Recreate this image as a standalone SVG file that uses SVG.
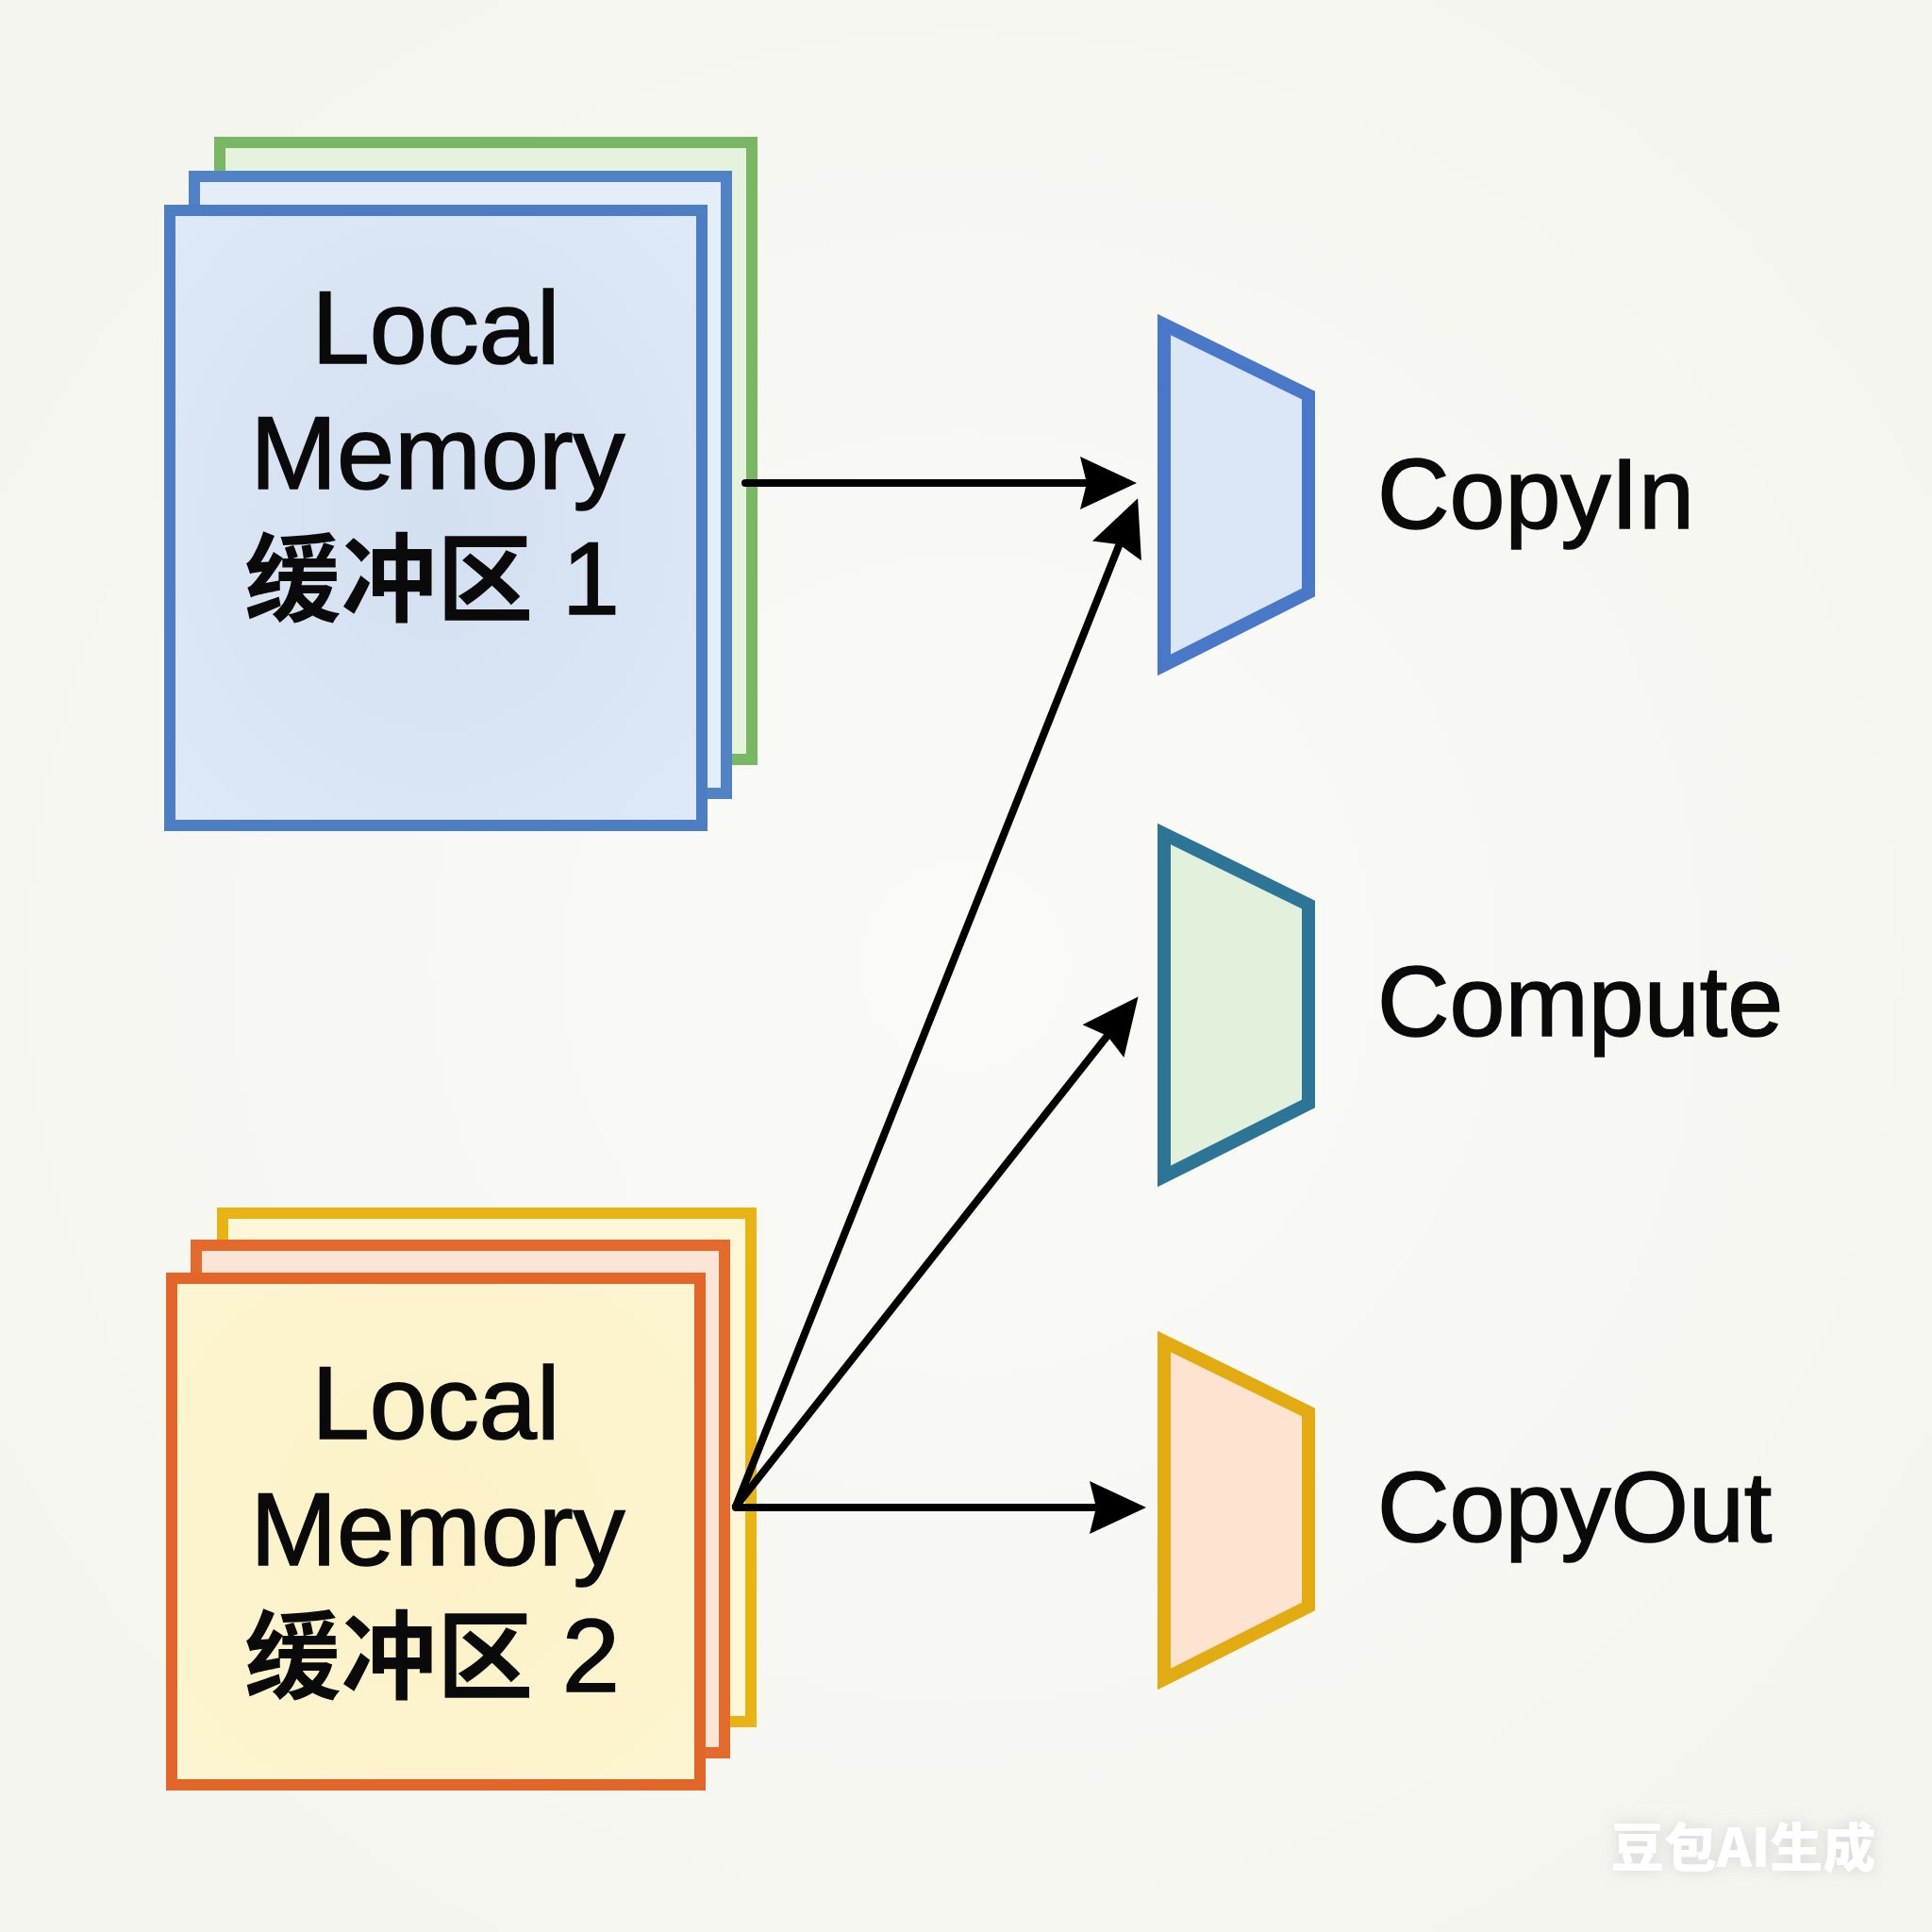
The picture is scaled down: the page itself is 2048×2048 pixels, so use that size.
<svg xmlns="http://www.w3.org/2000/svg" width="2048" height="2048" viewBox="0 0 2048 2048">
  <defs>
    <style>
      .lbl { font-family: "Liberation Sans", "Noto Sans CJK SC", sans-serif; fill: #0a0a0a; stroke: #0a0a0a; stroke-width: 1.6px; }
      .box { font-size: 110px; text-anchor: middle; }
      .cjk { font-family: "Noto Sans CJK SC", "Liberation Sans", sans-serif; font-weight: 700; stroke-width: 0; }
      .unit { font-size: 106px; }
      .conn { fill: none; stroke: #000; stroke-width: 8; stroke-linecap: round; marker-end: url(#arrow); }
      .sheet { stroke-width: 12; }
      .trap { stroke-width: 14; stroke-linejoin: miter; }
    </style>
    <marker id="arrow" markerUnits="userSpaceOnUse" markerWidth="62" markerHeight="58" refX="30" refY="28" orient="auto">
      <path d="M0,0 L60,28 L0,56 L7,28 Z" fill="#000"/>
    </marker>
    <radialGradient id="bg" cx="0.5" cy="0.5" r="0.75">
      <stop offset="0" stop-color="#fafaf7"/>
      <stop offset="1" stop-color="#f4f4ee"/>
    </radialGradient>
    <radialGradient id="blueFill" cx="0.5" cy="0.5" r="0.7">
      <stop offset="0" stop-color="#d3e0ef"/>
      <stop offset="1" stop-color="#dee9f7"/>
    </radialGradient>
    <radialGradient id="yellowFill" cx="0.5" cy="0.5" r="0.7">
      <stop offset="0" stop-color="#fcf1c6"/>
      <stop offset="1" stop-color="#fdf5d2"/>
    </radialGradient>
    <filter id="glow" x="-20%" y="-50%" width="140%" height="200%">
      <feGaussianBlur in="SourceAlpha" stdDeviation="8" result="b"/>
      <feFlood flood-color="#9a9a9a" flood-opacity="0.35"/>
      <feComposite in2="b" operator="in" result="s"/>
      <feMerge><feMergeNode in="s"/><feMergeNode in="SourceGraphic"/></feMerge>
    </filter>
  </defs>

  <rect width="2048" height="2048" fill="url(#bg)"/>

  <g id="buffer1">
    <rect class="sheet" x="233" y="151" width="564" height="654" fill="#e5f3de" stroke="#79b862"/>
    <rect class="sheet" x="206" y="187" width="564" height="654" fill="#e3eef9" stroke="#5282c6"/>
    <rect class="sheet" x="180" y="223" width="564" height="652" fill="url(#blueFill)" stroke="#4d7dc3"/>
    <text class="lbl box" x="462" y="385">Local</text>
    <text class="lbl box" x="464" y="518">Memory</text>
    <text class="lbl box" x="458" y="651"><tspan class="cjk" font-size="102">缓冲区</tspan> 1</text>
  </g>

  <g id="buffer2">
    <rect class="sheet" x="236" y="1286" width="560" height="539" fill="#fdf6d9" stroke="#e8b414"/>
    <rect class="sheet" x="208" y="1320" width="560" height="538" fill="#fce4d6" stroke="#e26a2c"/>
    <rect class="sheet" x="182" y="1355" width="560" height="537" fill="url(#yellowFill)" stroke="#e2662a"/>
    <text class="lbl box" x="462" y="1525">Local</text>
    <text class="lbl box" x="464" y="1659">Memory</text>
    <text class="lbl box" x="458" y="1793"><tspan class="cjk" font-size="102">缓冲区</tspan> 2</text>
  </g>

  <g id="copyin">
    <polygon class="trap" points="1234,344 1387,419 1387,628 1234,705" fill="#dbe7f6" stroke="#4a78c8"/>
    <text class="lbl unit" x="1460" y="560">CopyIn</text>
  </g>

  <g id="compute">
    <polygon class="trap" points="1234,884 1387,959 1387,1170 1234,1247" fill="#e1f1dc" stroke="#2d7597"/>
    <text class="lbl unit" x="1460" y="1098">Compute</text>
  </g>

  <g id="copyout">
    <polygon class="trap" points="1234,1422 1387,1497 1387,1703 1234,1780" fill="#fde3d0" stroke="#e3ab12"/>
    <text class="lbl unit" x="1460" y="1634">CopyOut</text>
  </g>

  <g id="connectors">
    <line class="conn" x1="790" y1="512" x2="1175" y2="512"/>
    <line class="conn" x1="780" y1="1597" x2="1195" y2="556"/>
    <line class="conn" x1="780" y1="1597" x2="1188" y2="1080"/>
    <line class="conn" x1="780" y1="1598" x2="1185" y2="1598"/>
  </g>

  <text x="1848" y="1979" text-anchor="middle" font-family="'Noto Sans CJK SC', sans-serif" font-weight="900" font-size="56" fill="#ffffff" filter="url(#glow)">豆包AI生成</text>
</svg>
